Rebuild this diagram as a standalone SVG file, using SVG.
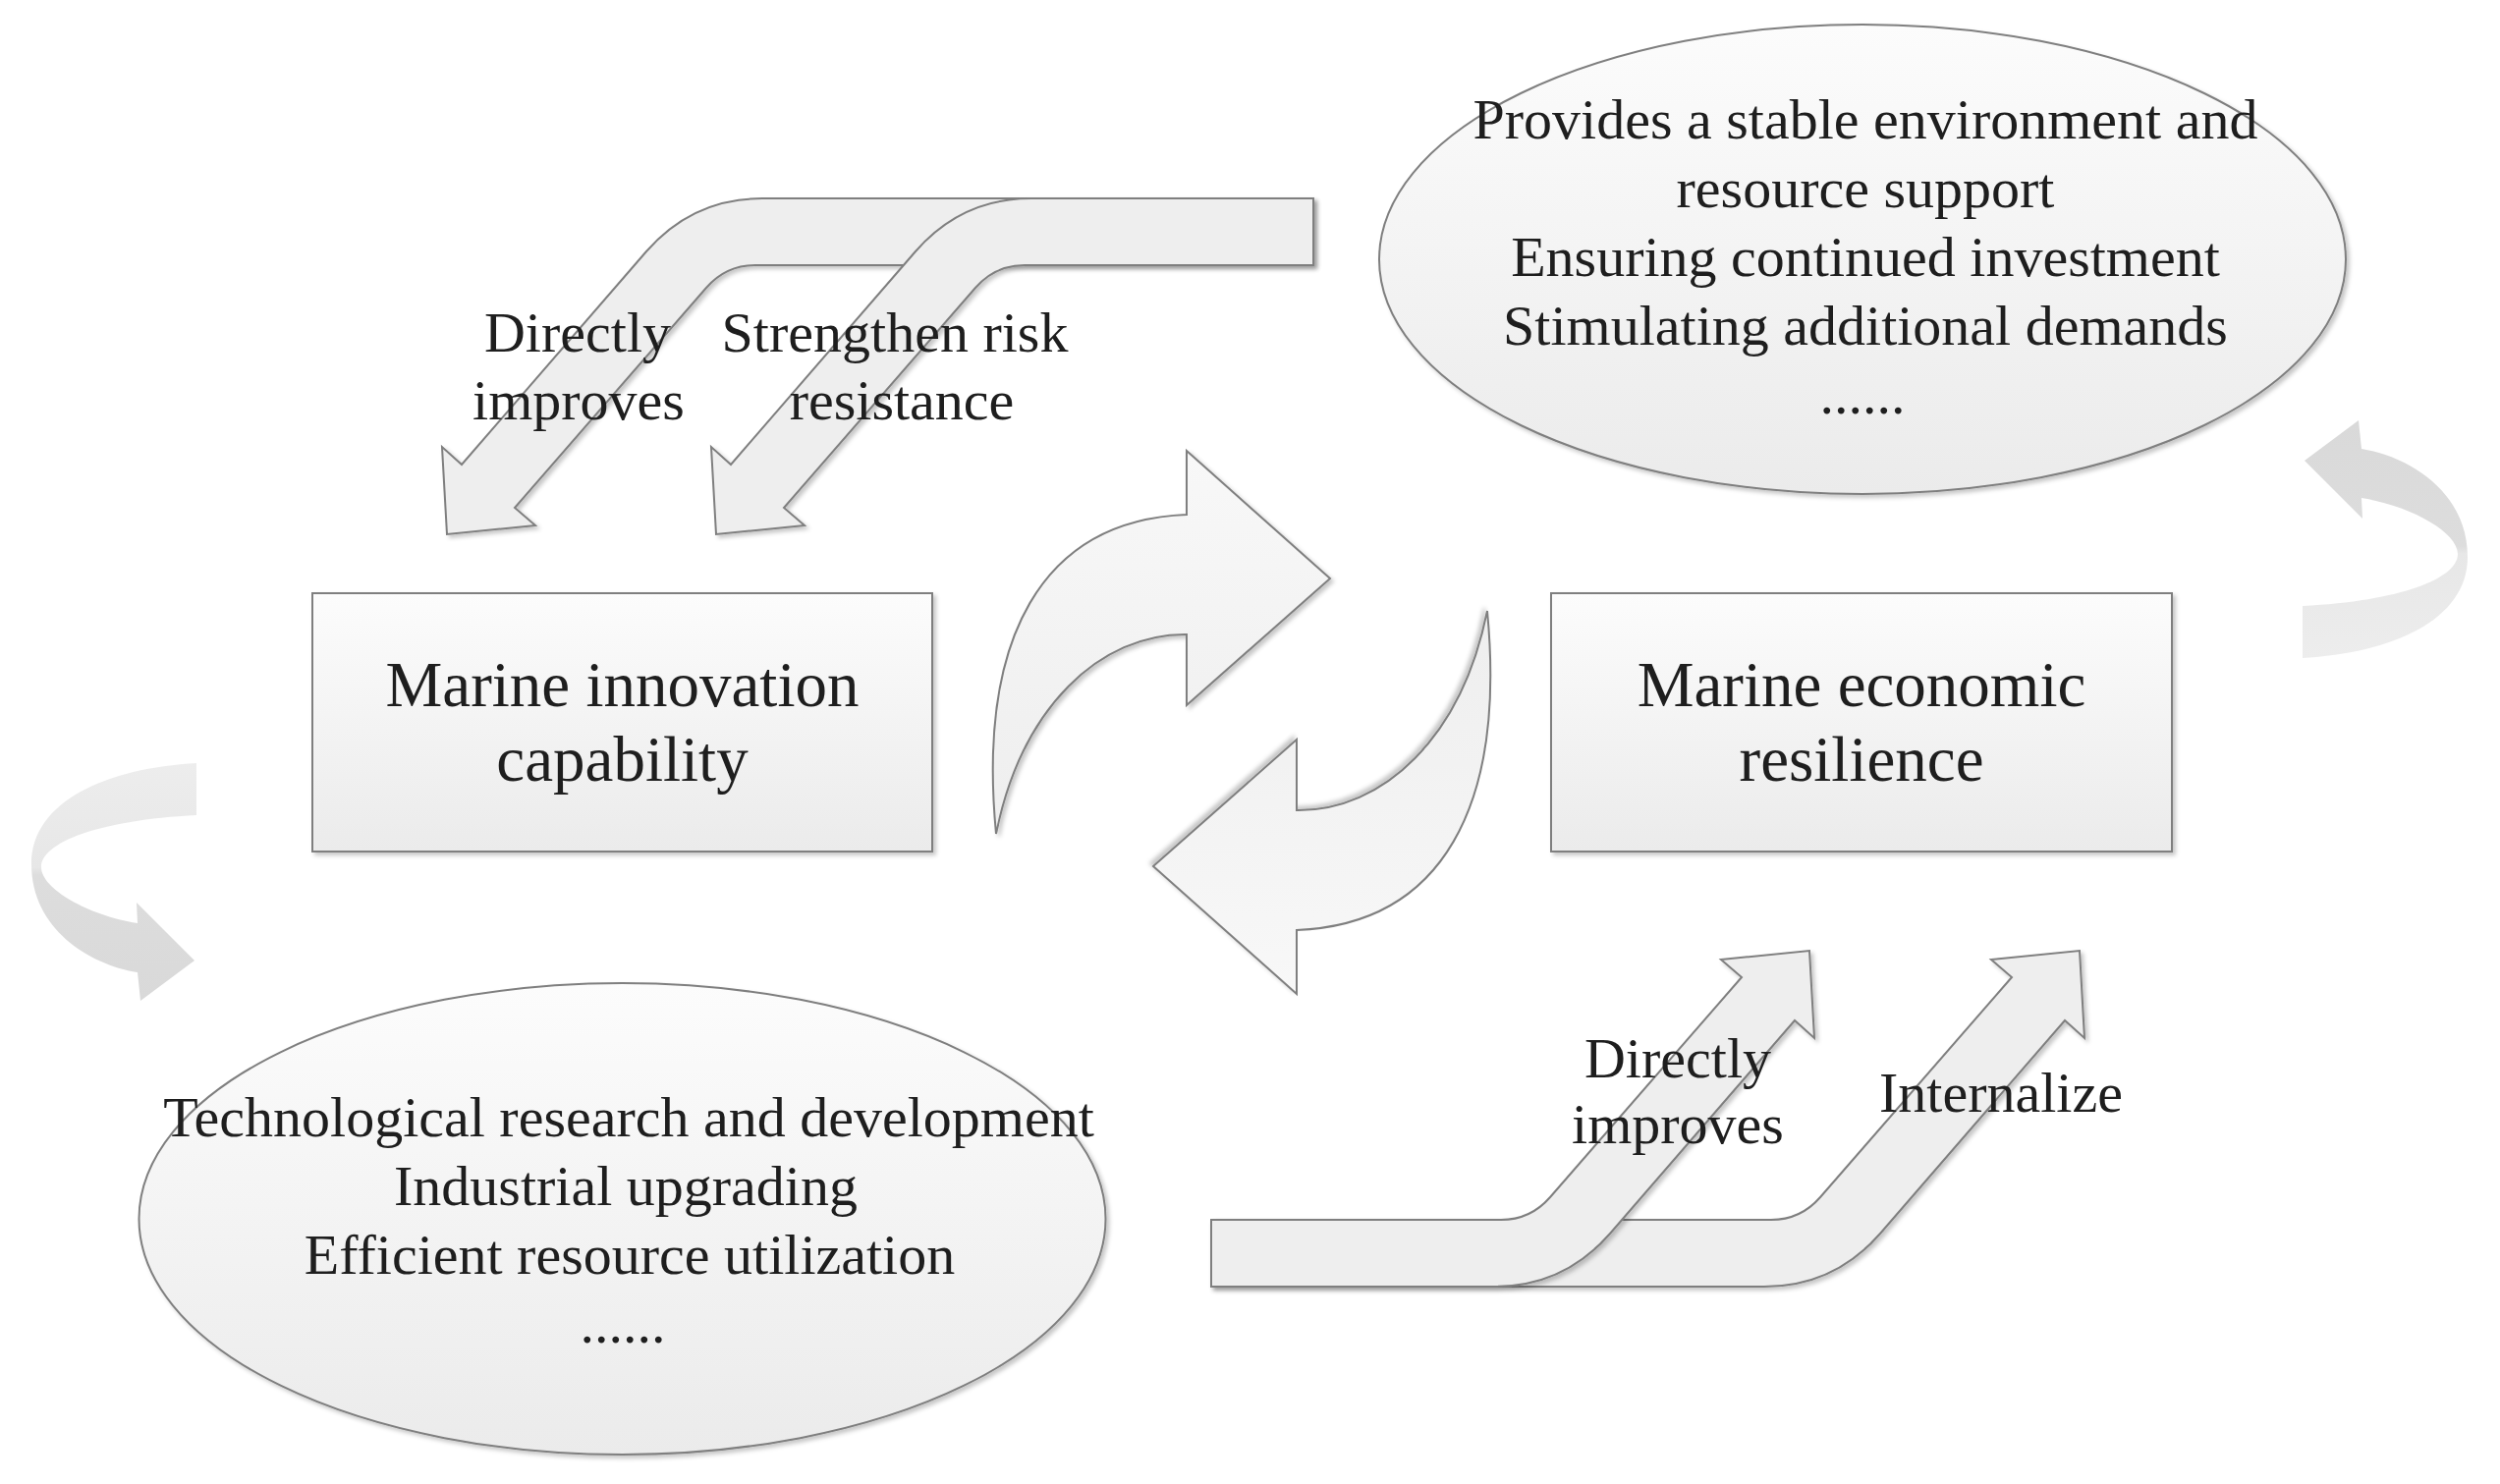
<svg xmlns="http://www.w3.org/2000/svg" width="2545" height="1511" viewBox="0 0 2545 1511">
<defs>
<linearGradient id="gBox" x1="0" y1="0" x2="0" y2="1">
<stop offset="0" stop-color="#fcfcfc"/>
<stop offset="1" stop-color="#ebebeb"/>
</linearGradient>
<linearGradient id="gArrow" x1="0" y1="0" x2="0" y2="1">
<stop offset="0" stop-color="#f8f8f8"/>
<stop offset="1" stop-color="#eeeeee"/>
</linearGradient>
<linearGradient id="gFaint" gradientUnits="userSpaceOnUse" x1="0" y1="777" x2="0" y2="1019">
<stop offset="0" stop-color="#ededed"/>
<stop offset="0.44" stop-color="#e7e7e7"/>
<stop offset="0.47" stop-color="#dddddd"/>
<stop offset="1" stop-color="#d9d9d9"/>
</linearGradient>
<filter id="sh" x="-10%" y="-10%" width="130%" height="130%">
<feDropShadow dx="3" dy="3" stdDeviation="2" flood-color="#000" flood-opacity="0.22"/>
</filter>
</defs>
<style>
.node{fill:url(#gBox);stroke:#7f7f7f;stroke-width:2;filter:url(#sh)}
.blk{fill:#eeeeee;stroke:#7f7f7f;stroke-width:2;stroke-linejoin:miter;filter:url(#sh)}
.cyc{fill:url(#gArrow);stroke:#7f7f7f;stroke-width:2;filter:url(#sh)}
.faint{fill:url(#gFaint);stroke:none}
text{font-family:"Liberation Serif","Times New Roman",serif;fill:#1e1e1e;text-anchor:middle}
.t58{font-size:58px}
.t65{font-size:65px}
</style>
<rect width="2545" height="1511" fill="#ffffff"/>

<g id="connectors">
<!-- top-left bent arrows -->
<path class="blk" d="M 1337,202 L 776,202 Q 705,202 658,256 L 470,473 L 450,455 L 455,544 L 545,535 L 524,517 L 719,293 Q 739,270 769,270 L 1337,270 Z"/>
<path class="blk" d="M 1337,202 L 1050,202 Q 979,202 932,256 L 744,473 L 724,455 L 729,544 L 819,535 L 798,517 L 993,293 Q 1013,270 1043,270 L 1337,270 Z"/>
<!-- bottom-right bent arrows -->
<path class="blk" d="M 1233,1242 L 1803,1242 Q 1833,1242 1853,1219 L 2048,995 L 2027,977 L 2117,968 L 2122,1057 L 2102,1039 L 1914,1256 Q 1867,1310 1796,1310 L 1233,1310 Z"/>
<path class="blk" d="M 1233,1242 L 1528,1242 Q 1558,1242 1578,1219 L 1773,995 L 1752,977 L 1842,968 L 1847,1057 L 1827,1039 L 1639,1256 Q 1592,1310 1521,1310 L 1233,1310 Z"/>
<!-- central cycle arrows -->
<path class="cyc" d="M 1014,849 C 995,650 1060,530 1208,524 L 1208,459 L 1354,589 L 1208,718 L 1208,646 C 1120,645 1040,720 1014,849 Z"/>
<path class="cyc" transform="rotate(180 1264 735.5)" d="M 1014,849 C 995,650 1060,530 1208,524 L 1208,459 L 1354,589 L 1208,718 L 1208,646 C 1120,645 1040,720 1014,849 Z"/>
<!-- faint curved arrows -->
<path class="faint" d="M 200,777 C 110,782 32,815 32,880 C 32,945 90,982 140,990 L 143,1019 L 198,978 L 139,919 L 140,940 C 90,932 42,905 42,883 C 42,858 100,835 200,830 Z"/>
<path class="faint" transform="rotate(180 1272 723.5)" d="M 200,777 C 110,782 32,815 32,880 C 32,945 90,982 140,990 L 143,1019 L 198,978 L 139,919 L 140,940 C 90,932 42,905 42,883 C 42,858 100,835 200,830 Z"/>
<!-- labels -->
<text class="t58" x="588" y="358">Directly</text>
<text class="t58" x="589" y="427">improves</text>
<text class="t58" x="911" y="358">Strengthen risk</text>
<text class="t58" x="918" y="427">resistance</text>
<text class="t58" x="1708" y="1097">Directly</text>
<text class="t58" x="1708" y="1164">improves</text>
<text class="t58" x="2037" y="1132">Internalize</text>
</g>

<g id="node-innovation">
<rect class="node" x="318" y="604" width="631" height="263"/>
<text class="t65" x="633.5" y="719">Marine innovation</text>
<text class="t65" x="633.5" y="795">capability</text>
</g>

<g id="node-resilience">
<rect class="node" x="1579" y="604" width="632" height="263"/>
<text class="t65" x="1895" y="719">Marine economic</text>
<text class="t65" x="1895" y="795">resilience</text>
</g>

<g id="node-support">
<ellipse class="node" cx="1896" cy="264" rx="492" ry="239"/>
<text class="t58" x="1899" y="141">Provides a stable environment and</text>
<text class="t58" x="1899" y="211">resource support</text>
<text class="t58" x="1899" y="281">Ensuring continued investment</text>
<text class="t58" x="1899" y="351">Stimulating additional demands</text>
<text class="t58" x="1896" y="421">......</text>
</g>

<g id="node-drivers">
<ellipse class="node" cx="633.5" cy="1241" rx="492" ry="240"/>
<text class="t58" x="640" y="1157">Technological research and development</text>
<text class="t58" x="637" y="1227">Industrial upgrading</text>
<text class="t58" x="641" y="1297">Efficient resource utilization</text>
<text class="t58" x="634" y="1367">......</text>
</g>
</svg>
